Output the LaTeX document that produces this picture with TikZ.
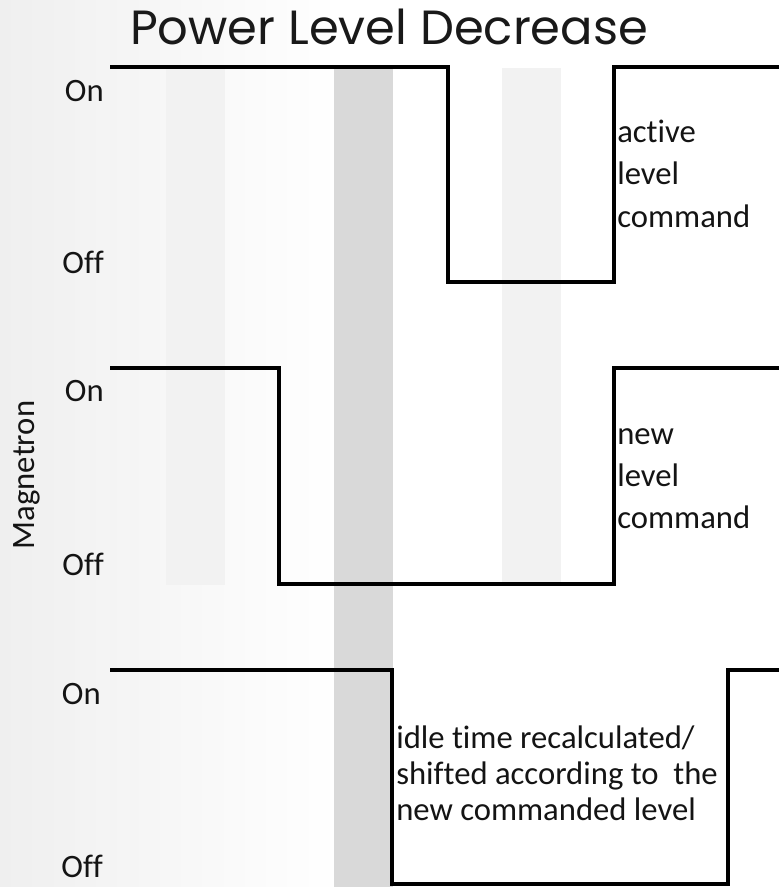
\documentclass[tikz,border=0pt]{standalone}
\usepackage{fontspec}
\setmainfont{Carlito}[Ligatures={NoCommon}]
\newfontfamily\titlefont{Poppins}
\definecolor{barlight}{HTML}{F2F2F2}
\definecolor{bardark}{HTML}{D9D9D9}
\definecolor{bgleft}{HTML}{EFEFEF}
\begin{document}
\begin{tikzpicture}[x=0.75pt,y=-0.75pt,
  wave/.style={line width=2.5pt, line join=miter, line cap=butt},
  lbl/.style={font=\fontsize{24.5}{29}\selectfont, inner sep=0pt, text=black!92},
  titlestyle/.style={font=\titlefont\fontsize{36}{42}\selectfont, inner sep=0pt, text=black!90}]
\useasboundingbox (0,0) rectangle (778,887);
\fill[white] (0,0) rectangle (778,887);
\shade[left color=bgleft, right color=white] (0,0) rectangle (340,887);
% shaded time bars
\fill[barlight] (166,68) rectangle (225,585);
\fill[barlight] (502,68) rectangle (561,585);
\fill[bardark] (334,68) rectangle (393,887);
% title
\node[titlestyle, anchor=base] (title) at (389,45) {Power Level Decrease};
% waveforms
\coordinate (a0) at (110,67);
\coordinate (a1) at (448,67);
\coordinate (a2) at (448,282);
\coordinate (a3) at (614,282);
\coordinate (a4) at (614,67);
\coordinate (a5) at (779,67);
\draw[wave] (a0) -- (a1) -- (a2) -- (a3) -- (a4) -- (a5);
\coordinate (b0) at (110,368);
\coordinate (b1) at (279,368);
\coordinate (b2) at (279,584);
\coordinate (b3) at (614,584);
\coordinate (b4) at (614,368);
\coordinate (b5) at (779,368);
\draw[wave] (b0) -- (b1) -- (b2) -- (b3) -- (b4) -- (b5);
\coordinate (c0) at (110,670);
\coordinate (c1) at (392,670);
\coordinate (c2) at (392,884);
\coordinate (c3) at (728,884);
\coordinate (c4) at (728,670);
\coordinate (c5) at (779,670);
\draw[wave] (c0) -- (c1) -- (c2) -- (c3) -- (c4) -- (c5);
% on/off labels
\node[lbl, anchor=east] (on1) at (104,91) {On};
\node[lbl, anchor=east] (off1) at (104,262) {Off};
\node[lbl, anchor=east] (on2) at (104,391) {On};
\node[lbl, anchor=east] (off2) at (104,564) {Off};
\node[lbl, anchor=east] (on3) at (101,694) {On};
\node[lbl, anchor=east] (off3) at (103,866) {Off};
\node[lbl, rotate=90] (mag) at (27,475) {Magnetron};
% right labels
\node[lbl, anchor=base west] (t1a) at (617,143) {active};
\node[lbl, anchor=base west] (t1b) at (617,185) {level};
\node[lbl, anchor=base west] (t1c) at (617,228) {command};
\node[lbl, anchor=base west] (t2a) at (617,444) {new};
\node[lbl, anchor=base west] (t2b) at (617,486) {level};
\node[lbl, anchor=base west] (t2c) at (617,528) {command};
\node[lbl, anchor=base west] (t3a) at (396,748) {idle time recalculated/};
\node[lbl, anchor=base west] (t3b) at (396,784) {shifted according to\ \ the};
\node[lbl, anchor=base west] (t3c) at (396,820) {new commanded level};
\end{tikzpicture}
\end{document}
